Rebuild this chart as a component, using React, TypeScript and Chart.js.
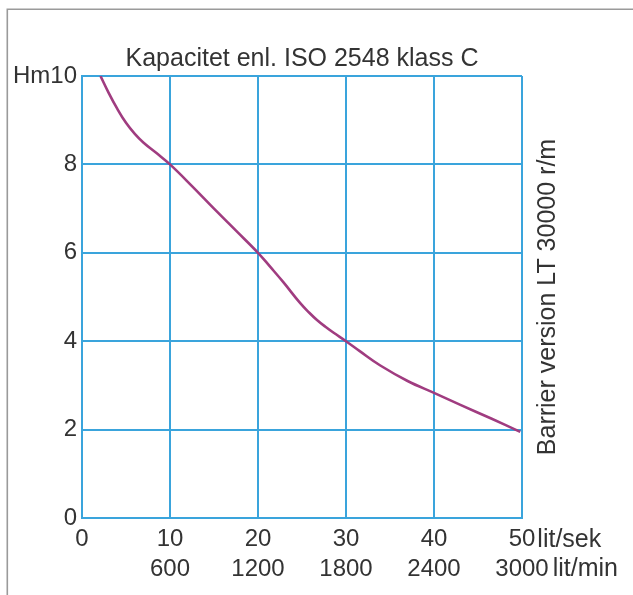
import { useEffect, useRef } from "react";
import { Chart, registerables } from "chart.js";

Chart.register(...registerables);

// Flow in lit/sek and head in metres
const flowLps = [2.1, 3, 4, 5, 6, 7, 8.5, 10, 12.5, 15, 17.5, 20, 21.4, 22.9, 24.8, 25.8, 26.7, 27.7, 28.6, 30, 31.6, 33.9, 37, 40, 43, 46.5, 49.8];
const headM = [10, 9.63, 9.26, 8.94, 8.69, 8.49, 8.25, 8.0, 7.51, 7.0, 6.5, 6.0, 5.68, 5.33, 4.86, 4.65, 4.48, 4.32, 4.19, 4.0, 3.77, 3.45, 3.1, 2.83, 2.56, 2.25, 1.95];

const xTickValues = [0, 10, 20, 30, 40, 50];
const xTickLitMin = ["", "600", "1200", "1800", "2400", "3000"];
const yTickValues = [0, 2, 4, 6, 8, 10];

const titleText = "Kapacitet enl. ISO 2548 klass C";
const rightText = "Barrier version LT 30000 r/m";
const unitTop = "lit/sek";
const unitBottom = "lit/min";
const yTopLabel = "Hm10";

const FONT = "'Liberation Sans', Arial, Helvetica, sans-serif";
const TEXT = "#333333";
const GRID = "#3aa4dc";
const CURVE = "#a03c80";
const TICK_SIZE = 24;
const TICK_LH = 1.23;
const X_PAD = 7;

const extrasPlugin = {
  id: "extras",
  beforeDraw(chart: any) {
    const ctx = chart.ctx;
    ctx.save();
    ctx.fillStyle = "#ffffff";
    ctx.fillRect(0, 0, chart.width, chart.height);
    ctx.strokeStyle = "#9a9a9a";
    ctx.lineWidth = 1.6;
    ctx.beginPath();
    ctx.moveTo(7.3, chart.height);
    ctx.lineTo(7.3, 9.3);
    ctx.lineTo(chart.width, 9.3);
    ctx.stroke();
    ctx.restore();
  },
  afterDraw(chart: any) {
    const ctx = chart.ctx;
    const area = chart.chartArea;
    const xs = chart.scales.x;
    ctx.save();
    ctx.fillStyle = TEXT;
    // title
    ctx.font = `25px ${FONT}`;
    ctx.textAlign = "center";
    ctx.textBaseline = "alphabetic";
    ctx.fillText(titleText, (area.left + area.right) / 2, 66);
    // right vertical label
    ctx.save();
    ctx.translate(555, (area.top + area.bottom) / 2);
    ctx.rotate(-Math.PI / 2);
    ctx.fillText(rightText, 0, 0);
    ctx.restore();
    // units after last x tick
    ctx.font = `${TICK_SIZE}px ${FONT}`;
    const lastIdx = xTickValues.length - 1;
    const px = xs.getPixelForValue(xTickValues[lastIdx]);
    const lh = TICK_SIZE * TICK_LH;
    const y1 = area.bottom + X_PAD + lh / 2;
    const y2 = y1 + lh;
    const w1 = ctx.measureText(String(xTickValues[lastIdx])).width;
    const w2 = ctx.measureText(xTickLitMin[lastIdx]).width;
    ctx.font = `25px ${FONT}`;
    ctx.textAlign = "left";
    ctx.textBaseline = "middle";
    ctx.fillText(unitTop, px + w1 / 2 + 2, y1);
    ctx.fillText(unitBottom, px + w2 / 2 + 4, y2);
    ctx.restore();
  },
};

export default function App() {
  const ref = useRef<HTMLCanvasElement | null>(null);

  useEffect(() => {
    if (!ref.current) return;
    const points = flowLps.map((x, i) => ({ x, y: headM[i] }));
    const chart = new Chart(ref.current, {
      type: "line",
      data: {
        datasets: [
          {
            data: points,
            borderColor: CURVE,
            borderWidth: 2.6,
            pointRadius: 0,
            tension: 0.4,
            fill: false,
          },
        ],
      },
      options: {
        animation: false,
        responsive: true,
        maintainAspectRatio: false,
        layout: { padding: { top: 76, right: 111, left: 0, bottom: 0 } },
        plugins: {
          legend: { display: false },
          title: { display: false },
          tooltip: { enabled: false },
        },
        scales: {
          x: {
            type: "linear",
            min: 0,
            max: 50,
            afterFit: (s: any) => {
              s.height = 77;
            },
            afterBuildTicks: (s: any) => {
              s.ticks = xTickValues.map((v) => ({ value: v }));
            },
            ticks: {
              autoSkip: false,
              maxRotation: 0,
              minRotation: 0,
              padding: X_PAD,
              color: TEXT,
              font: { family: FONT, size: TICK_SIZE, lineHeight: TICK_LH },
              callback: (v: any) => {
                const i = xTickValues.indexOf(Number(v));
                const second = i >= 0 ? xTickLitMin[i] : "";
                return second ? [String(v), second] : String(v);
              },
            },
            grid: { color: GRID, lineWidth: 2, drawTicks: false },
            border: { display: true, color: GRID, width: 2 },
          },
          y: {
            type: "linear",
            min: 0,
            max: 10,
            afterFit: (s: any) => {
              s.width = 82;
            },
            afterBuildTicks: (s: any) => {
              s.ticks = yTickValues.map((v) => ({ value: v }));
            },
            ticks: {
              padding: 5,
              color: TEXT,
              font: { family: FONT, size: TICK_SIZE },
              callback: (v: any) => (Number(v) === 10 ? yTopLabel : String(v)),
            },
            grid: { color: GRID, lineWidth: 2, drawTicks: false },
            border: { display: true, color: GRID, width: 2 },
          },
        },
      },
      plugins: [extrasPlugin],
    });
    return () => chart.destroy();
  }, []);

  return (
    <div style={{ position: "fixed", left: 0, top: 0, width: 633, height: 595, background: "#fff" }}>
      <canvas ref={ref} />
    </div>
  );
}
